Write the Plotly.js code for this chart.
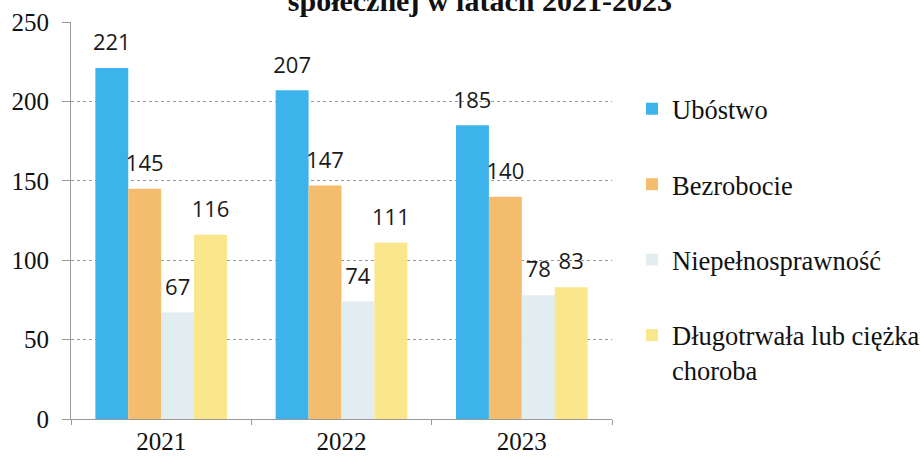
<!DOCTYPE html>
<html><head><meta charset="utf-8">
<script src="https://cdn.plot.ly/plotly-3.0.1.min.js"></script>
<style>html,body{margin:0;padding:0;background:#fff}#chart{width:921px;height:461px}</style>
</head><body><div id="chart"></div>
<script>
const years = ['2021', '2022', '2023'];
const seriesNames = ['Ubóstwo', 'Bezrobocie', 'Niepełnosprawność', 'Długotrwała lub ciężka<br>choroba'];
const ubostwo = [221, 207, 185];
const bezrobocie = [145, 147, 140];
const niepelnosprawnosc = [67, 74, 78];
const choroba = [116, 111, 83];
const yTicks = [0, 50, 100, 150, 200, 250];
const titleText = 'społecznej w latach 2021-2023';

const values = [ubostwo, bezrobocie, niepelnosprawnosc, choroba];
const colors = ['#3cb4eb', '#f4bd6e', '#e2edf1', '#fae68b'];

const traces = values.map((v, i) => ({
  type: 'bar',
  name: seriesNames[i],
  x: years,
  y: v,
  legendgroup: 'g' + i,
  marker: {color: colors[i], line: {width: 0}},
  texttemplate: '<span style="font-size:22px">%{y}</span><br>&nbsp;',
  textposition: 'outside',
  constraintext: 'none',
  cliponaxis: false,
  textfont: {family: 'Open Sans, sans-serif', size: 9, color: '#1a1a1a'},
  hoverinfo: 'skip'
}));

const layout = {
  width: 921, height: 461,
  margin: {l: 71, r: 309, t: 22, b: 42, autoexpand: false},
  paper_bgcolor: '#ffffff', plot_bgcolor: '#ffffff',
  barmode: 'group', bargap: 0.27, bargroupgap: 0,
  title: {
    text: '<b>' + titleText + '</b>',
    font: {family: 'Liberation Serif, serif', size: 30, color: '#111'},
    xref: 'container', x: 0.521, xanchor: 'center',
    yref: 'container', y: 1, yanchor: 'middle'
  },
  xaxis: {
    type: 'category',
    showline: true, linecolor: '#9a9a9a', linewidth: 1,
    ticks: 'outside', tickson: 'boundaries', ticklen: 5, tickcolor: '#9a9a9a',
    tickfont: {family: 'Liberation Serif, serif', size: 25, color: '#111'},
    showgrid: false, zeroline: false
  },
  yaxis: {
    range: [0, 250], tickvals: yTicks, ticktext: yTicks.map(String),
    showline: true, linecolor: '#9a9a9a', linewidth: 1,
    ticks: 'outside', ticklen: 8, tickcolor: '#9a9a9a',
    ticklabelstandoff: 8,
    tickfont: {family: 'Liberation Serif, serif', size: 25, color: '#111'},
    showgrid: true, gridcolor: '#9a9a9a', gridwidth: 1, griddash: 'dot',
    zeroline: false
  },
  showlegend: true,
  legend: {
    xref: 'container', yref: 'container',
    x: 0.6862, xanchor: 'left', y: 0.8156, yanchor: 'top',
    maxheight: 440,
    font: {family: 'Liberation Serif, serif', size: 26.5, color: '#111'},
    tracegroupgap: 38, traceorder: 'grouped', valign: 'top',
    bgcolor: 'rgba(0,0,0,0)', borderwidth: 0
  }
};

Plotly.newPlot('chart', traces, layout, {displayModeBar: false, staticPlot: true});
</script></body></html>
